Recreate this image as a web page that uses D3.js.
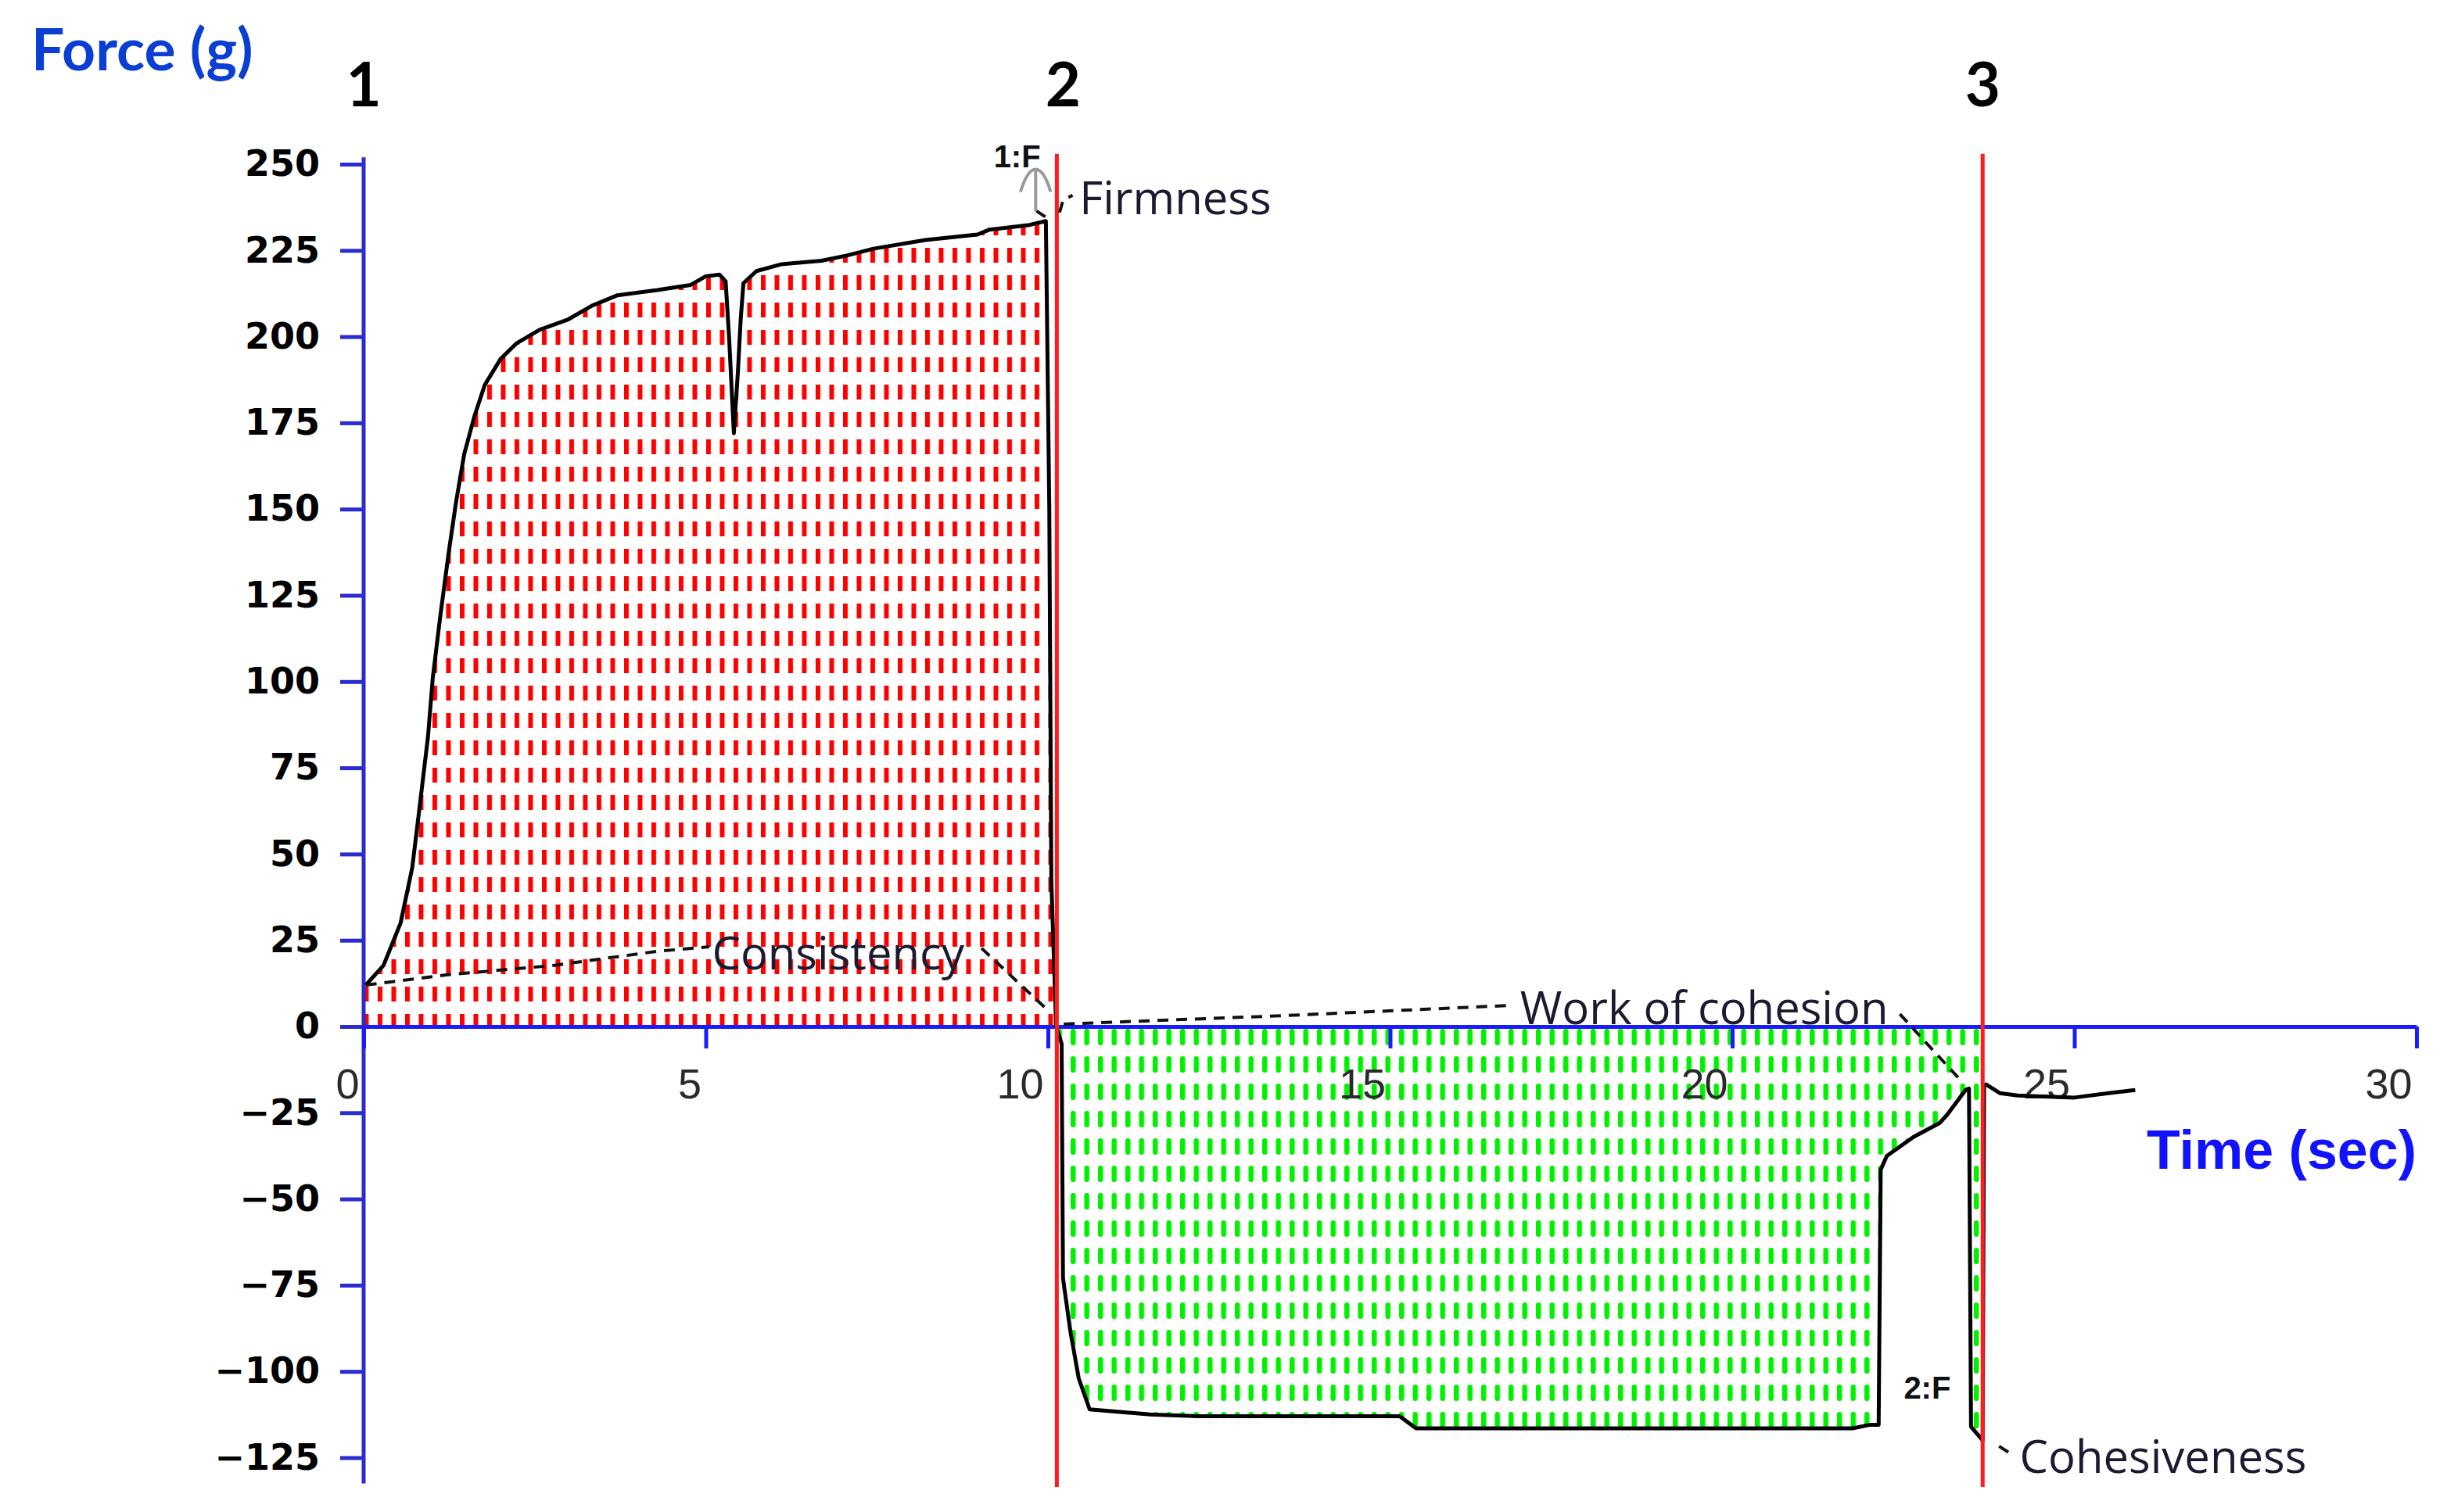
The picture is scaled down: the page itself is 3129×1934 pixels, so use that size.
<!DOCTYPE html>
<html>
<head>
<meta charset="utf-8">
<script src="https://cdn.jsdelivr.net/npm/d3@7"></script>
<style>
body { margin: 0; background: #fff; }
</style>
</head>
<body>
<svg id="chart"></svg>
<script>
var width = 3129;
var height = 1934;

// compression part (1 -> 2), time in sec, force in g
var compTime = [0.03, 0.29, 0.54, 0.71, 0.82, 0.94, 1.01, 1.12, 1.24, 1.35, 1.47, 1.62, 1.77, 2.0, 2.23, 2.57, 2.99, 3.34, 3.71, 4.29, 4.78, 5.0, 5.2, 5.29, 5.34, 5.41, 5.47, 5.51, 5.55, 5.74, 6.11, 6.69, 7.06, 7.45, 8.21, 8.97, 9.14, 9.71, 9.97, 10.02, 10.05, 10.12];
var compForce = [12, 17.7, 30, 46, 64, 84, 101, 119, 137, 152, 166, 177, 186, 193.5, 198, 202, 205, 209, 212, 213.5, 215, 217.5, 218, 216, 200, 172, 190, 205, 215.5, 219, 221, 222, 223.5, 225.5, 228, 229.6, 231, 232.3, 233.5, 150, 42, 0];

// withdrawal part (2 -> 3)
var pullTime = [10.12, 10.2, 10.22, 10.33, 10.45, 10.61, 11.5, 12.2, 14.6, 15.14, 15.38, 21.76, 22.0, 22.14, 22.17, 22.26, 22.65, 23.03, 23.14, 23.41, 23.46, 23.49, 23.66];
var pullForce = [0, -5, -73, -88.6, -102, -111, -112.5, -113, -113, -113, -116.5, -116.5, -115.5, -115.5, -41.5, -37.5, -32, -28, -25.6, -18.4, -18, -116, -120];

// after 3
var tailTime = [23.68, 23.71, 23.91, 24.17, 25.0, 25.5, 25.89];
var tailForce = [-17, -16.8, -19.3, -20, -20.6, -19.3, -18.4];

var xTicks = [0, 5, 10, 15, 20, 25, 30];
var yTicks = [250, 225, 200, 175, 150, 125, 100, 75, 50, 25, 0, -25, -50, -75, -100, -125];

var markerLabels = ["1", "2", "3"];
var markerTimes = [0, 10.13, 23.66];

// annotation labels: name, time of text start, force at text middle
var noteText = ["Consistency", "Work of cohesion", "Firmness", "Cohesiveness"];
var noteTime = [5.09, 16.9, 10.46, 24.2];
var noteForce = [21.1, 5.2, 240, -124.9];

// leader lines (time, force)
var consLeader = [[[0.03, 12], [1.23, 15], [2.77, 17.7], [4.29, 21.8], [5.05, 23.1]], [[9.03, 22.7], [10.01, 4.5]]];
var cohLeader = [[[10.23, 0.7], [13.5, 3.2], [16.74, 6.1]], [[22.45, 3.6], [23.37, -16.3]]];
var firmLeader = [[[10.17, 236], [10.22, 239.5], [10.36, 241]], [[9.83, 236.5], [9.97, 234.6]]];
var cohesLeader = [[[23.9, -121.7], [24.08, -124]]];

var peakMarks = ["1:F", "2:F"];
var peakMarkTime = [9.55, 22.85];
var peakMarkForce = [249, -108];

var x = d3.scaleLinear().domain([0, 30]).range([465, 3090]);
var y = d3.scaleLinear().domain([-125, 250]).range([1864.5, 210]);

var svg = d3.select("#chart")
  .attr("width", width)
  .attr("height", height)
  .style("font-family", "'Open Sans', sans-serif");

var defs = svg.append("defs");

var redPat = defs.append("pattern")
  .attr("id", "redDash")
  .attr("patternUnits", "userSpaceOnUse")
  .attr("x", 868).attr("y", 1297)
  .attr("width", 17.5).attr("height", 35);
redPat.append("rect")
  .attr("x", 0).attr("y", 0)
  .attr("width", 6).attr("height", 19)
  .attr("fill", "#ff0000");

var greenPat = defs.append("pattern")
  .attr("id", "greenDash")
  .attr("patternUnits", "userSpaceOnUse")
  .attr("x", 1369).attr("y", 1316)
  .attr("width", 17.5).attr("height", 35);
greenPat.append("rect")
  .attr("x", 0).attr("y", 0)
  .attr("width", 6.5).attr("height", 21)
  .attr("rx", 3)
  .attr("fill", "#00f000");

var comp = compTime.map(function(t, i) { return [t, compForce[i]]; });
var pull = pullTime.map(function(t, i) { return [t, pullForce[i]]; });
var tail = tailTime.map(function(t, i) { return [t, tailForce[i]]; });

var area = d3.area()
  .x(function(d) { return x(d[0]); })
  .y0(y(0))
  .y1(function(d) { return y(d[1]); });

svg.append("path")
  .datum([[0, 0], [0, 11]].concat(comp))
  .attr("d", area)
  .attr("fill", "url(#redDash)");

svg.append("path")
  .datum(pull)
  .attr("d", area)
  .attr("fill", "url(#greenDash)");

// axes
var yAxis = d3.axisLeft(y)
  .tickValues(yTicks)
  .tickSize(30)
  .tickSizeOuter(0)
  .tickPadding(26);

var gy = svg.append("g")
  .attr("transform", "translate(" + x(0) + ",0)")
  .call(yAxis);
gy.select(".domain").remove();
gy.selectAll(".tick line").attr("stroke", "#2b2bd0").attr("stroke-width", 5);
gy.selectAll(".tick text")
  .attr("fill", "#000")
  .style("font-family", "'DejaVu Sans', sans-serif")
  .style("font-weight", "bold")
  .style("font-size", "46px");

gy.append("line")
  .attr("x1", 0).attr("x2", 0)
  .attr("y1", y(252)).attr("y2", y(-132.5))
  .attr("stroke", "#2b2bd0")
  .attr("stroke-width", 5);

var xAxis = d3.axisBottom(x)
  .tickValues(xTicks)
  .tickSize(28)
  .tickSizeOuter(0);

var gx = svg.append("g")
  .attr("transform", "translate(0," + y(0) + ")")
  .call(xAxis);
gx.select(".domain")
  .attr("stroke", "#1a1aff")
  .attr("stroke-width", 5);
gx.selectAll(".tick line").attr("stroke", "#1a1aff").attr("stroke-width", 5);
gx.selectAll(".tick text")
  .attr("fill", "#2a2a2a")
  .attr("text-anchor", "end")
  .attr("x", -6)
  .attr("y", 73)
  .attr("dy", "0.35em")
  .style("font-family", "'Liberation Sans', Arial, sans-serif")
  .style("font-size", "54px");

// the force curve
var line = d3.line()
  .x(function(d) { return x(d[0]); })
  .y(function(d) { return y(d[1]); });

svg.append("path")
  .datum(comp.concat(pull, tail))
  .attr("d", line)
  .attr("fill", "none")
  .attr("stroke", "#000")
  .attr("stroke-width", 5)
  .attr("stroke-linejoin", "round");

// red vertical markers at 2 and 3
svg.selectAll(".vline")
  .data(markerTimes.slice(1))
  .enter()
  .append("line")
  .attr("class", "vline")
  .attr("x1", function(d) { return x(d); })
  .attr("x2", function(d) { return x(d); })
  .attr("y1", y(253))
  .attr("y2", y(-133.5))
  .attr("stroke", "#ff1c1c")
  .attr("stroke-width", 5);

svg.selectAll(".marker")
  .data(markerLabels)
  .enter()
  .append("text")
  .attr("class", "marker")
  .attr("x", function(d, i) { return x(markerTimes[i]) + (i == 1 ? 8 : 0); })
  .attr("y", 136)
  .attr("text-anchor", "middle")
  .style("font-family", "Lato, sans-serif")
  .style("font-weight", "bold")
  .style("font-size", "78px")
  .attr("fill", "#000")
  .text(function(d) { return d; });

// leader lines
var leaders = consLeader.concat(cohLeader, firmLeader, cohesLeader);
svg.selectAll(".leader")
  .data(leaders)
  .enter()
  .append("path")
  .attr("class", "leader")
  .attr("d", line)
  .attr("fill", "none")
  .attr("stroke", "#111")
  .attr("stroke-width", 4)
  .attr("stroke-dasharray", "14,10");

svg.selectAll(".note")
  .data(noteText)
  .enter()
  .append("text")
  .attr("class", "note")
  .attr("x", function(d, i) { return x(noteTime[i]); })
  .attr("y", function(d, i) { return y(noteForce[i]); })
  .attr("dy", "0.35em")
  .attr("fill", "#1a1a30")
  .style("font-size", "58px")
  .text(function(d) { return d; });

// peak markers
svg.selectAll(".peak")
  .data(peakMarks)
  .enter()
  .append("text")
  .attr("class", "peak")
  .attr("x", function(d, i) { return x(peakMarkTime[i]); })
  .attr("y", function(d, i) { return y(peakMarkForce[i]); })
  .attr("text-anchor", "middle")
  .attr("fill", "#111")
  .style("font-family", "'Liberation Sans', Arial, sans-serif")
  .style("font-weight", "bold")
  .style("font-size", "40px")
  .text(function(d) { return d; });

// grey arrow at first peak
var arrowT = 9.82;
svg.append("line")
  .attr("x1", x(arrowT)).attr("x2", x(arrowT))
  .attr("y1", y(236.4)).attr("y2", y(248.2))
  .attr("stroke", "#9a9a9a")
  .attr("stroke-width", 4);
svg.append("path")
  .attr("d", "M" + x(arrowT - 0.22) + "," + y(242) +
    " Q" + x(arrowT - 0.12) + "," + y(248.5) + " " + x(arrowT) + "," + y(248.5) +
    " Q" + x(arrowT + 0.12) + "," + y(248.5) + " " + x(arrowT + 0.22) + "," + y(242))
  .attr("fill", "none")
  .attr("stroke", "#9a9a9a")
  .attr("stroke-width", 4);

// axis titles
svg.append("text")
  .attr("x", 40)
  .attr("y", 90)
  .attr("fill", "#0b3fd4")
  .style("font-family", "Lato, sans-serif")
  .style("font-weight", "bold")
  .style("font-size", "75px")
  .text("Force (g)");

svg.append("text")
  .attr("x", 3090)
  .attr("y", 1495)
  .attr("text-anchor", "end")
  .attr("fill", "#1212ff")
  .style("font-family", "'Liberation Sans', Arial, sans-serif")
  .style("font-weight", "bold")
  .style("font-size", "70px")
  .text("Time (sec)");
</script>
</body>
</html>
